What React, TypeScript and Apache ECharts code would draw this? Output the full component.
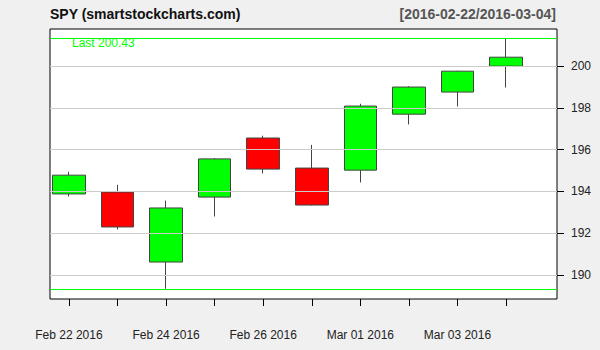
import React, { useEffect, useRef } from "react";
import * as echarts from "echarts";

const dates = ["Feb 22 2016", "Feb 23 2016", "Feb 24 2016", "Feb 25 2016", "Feb 26 2016", "Feb 29 2016", "Mar 01 2016", "Mar 02 2016", "Mar 03 2016", "Mar 04 2016"];
const opens = [193.88, 193.97, 190.62, 193.73, 196.56, 195.12, 195.02, 197.70, 198.76, 200.00];
const closes = [194.78, 192.30, 193.21, 195.56, 195.07, 193.35, 198.09, 199.00, 199.76, 200.43];
const lows = [193.76, 192.18, 189.34, 192.80, 194.86, 193.33, 194.43, 197.21, 198.07, 198.98];
const highs = [194.94, 194.32, 193.56, 195.60, 196.67, 196.23, 198.20, 199.04, 199.78, 201.34];
const yTicks = [190, 192, 194, 196, 198, 200];
const labelIdx = [1, 3, 5, 7, 9];
const titleLeft = "SPY (smartstockcharts.com)";
const titleRight = "[2016-02-22/2016-03-04]";

const FONT = "'Liberation Sans', Arial, sans-serif";

export default function App() {
  const ref = useRef<HTMLDivElement>(null);
  useEffect(() => {
    if (!ref.current) return;
    const chart = echarts.init(ref.current, undefined, { renderer: "svg" });
    const xs = dates.map((_, i) => i + 1);
    const data = xs.map((x, i) => [x, opens[i], closes[i], lows[i], highs[i]]);
    const lastClose = closes[closes.length - 1];
    const maxHigh = Math.max(...highs);
    const minLow = Math.min(...lows);
    chart.setOption({
      animation: false,
      backgroundColor: "#f0f0f0",
      textStyle: { fontFamily: FONT },
      grid: {
        left: 50,
        right: 43,
        top: 29,
        bottom: 51,
        show: true,
        backgroundColor: "#ffffff",
        borderColor: "#000000",
        borderWidth: 1,
      },
      xAxis: {
        type: "value",
        min: 0.61,
        max: 11.05,
        axisLine: { show: false },
        splitLine: { show: false },
        axisTick: { show: true, length: 7, customValues: xs, lineStyle: { color: "#000" } },
        axisLabel: {
          customValues: labelIdx,
          formatter: (v: number) => dates[Math.round(v) - 1] || "",
          margin: 30,
          color: "#222",
          fontSize: 12,
          fontFamily: FONT,
        },
      },
      yAxis: {
        type: "value",
        position: "right",
        min: 188.85,
        max: 201.78,
        scale: true,
        axisLine: { show: false },
        splitLine: { show: false },
        axisTick: { show: true, length: 7, customValues: yTicks, lineStyle: { color: "#000" } },
        axisLabel: {
          customValues: yTicks,
          margin: 14,
          color: "#222",
          fontSize: 12,
          fontFamily: FONT,
        },
      },
      series: [
        {
          type: "line",
          data: [],
          silent: true,
          markLine: {
            silent: true,
            symbol: "none",
            label: { show: false },
            lineStyle: { color: "#cccccc", width: 1, type: "solid" },
            data: yTicks.map((v) => ({ yAxis: v })),
          },
        },
        {
          type: "candlestick",
          data,
          encode: { x: 0, y: [1, 2, 3, 4] },
          barWidth: 33,
          itemStyle: {
            color: "#00ff00",
            color0: "#ff0000",
            borderColor: "#444444",
            borderColor0: "#444444",
            borderWidth: 1,
          },
          markLine: {
            silent: true,
            symbol: "none",
            label: { show: false },
            lineStyle: { color: "#00ff00", width: 1, type: "solid" },
            data: [{ yAxis: maxHigh }, { yAxis: minLow }],
          },
        },
      ],
      graphic: [
        {
          type: "text",
          left: 50,
          top: 7,
          style: { text: titleLeft, font: `bold 14px ${FONT}`, fill: "#111" },
        },
        {
          type: "text",
          right: 44,
          top: 7,
          style: { text: titleRight, font: `bold 14px ${FONT}`, fill: "#555" },
        },
        {
          type: "text",
          left: 72,
          top: 37,
          style: { text: `Last ${lastClose.toFixed(2)}`, font: `12px ${FONT}`, fill: "#00ff00" },
        },
      ],
    });
    return () => chart.dispose();
  }, []);
  return (
    <div
      ref={ref}
      style={{ position: "fixed", left: 0, top: 0, width: 600, height: 350, background: "#f0f0f0" }}
    />
  );
}
